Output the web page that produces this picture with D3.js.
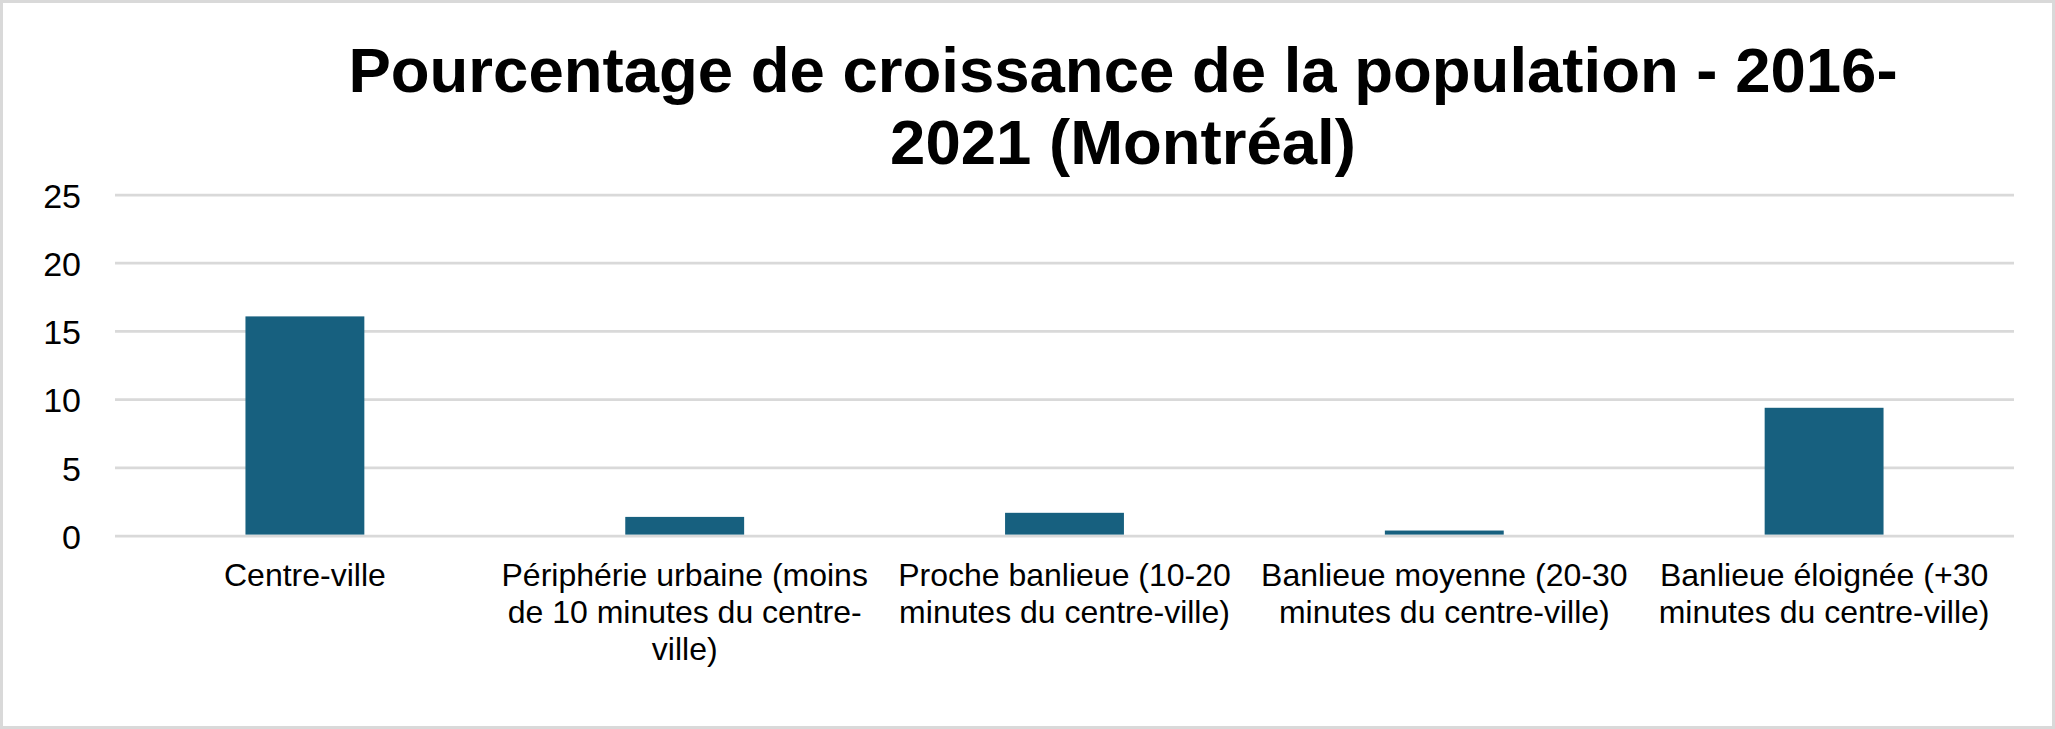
<!DOCTYPE html>
<html>
<head>
<meta charset="utf-8">
<script src="https://cdn.jsdelivr.net/npm/d3@7"></script>
<style>
  body { margin: 0; background: #fff; }
  text { font-family: "Liberation Sans", Arial, sans-serif; fill: #000; }
</style>
</head>
<body>
<div id="chart"></div>
<script>
var categories = [
  "Centre-ville",
  "Périphérie urbaine (moins\nde 10 minutes du centre-\nville)",
  "Proche banlieue (10-20\nminutes du centre-ville)",
  "Banlieue moyenne (20-30\nminutes du centre-ville)",
  "Banlieue éloignée (+30\nminutes du centre-ville)"
];
var values = [16.1, 1.4, 1.7, 0.4, 9.4];
var yTicks = [0, 5, 10, 15, 20, 25];
var titleLines = ["Pourcentage de croissance de la population - 2016-", "2021 (Montréal)"];

var w = 2055,
    h = 729,
    m = [195, 41, 193, 115]; // top right bottom left

var svg = d3.select("#chart").append("svg")
    .attr("width", w)
    .attr("height", h);

svg.append("rect")
    .attr("x", 1.5).attr("y", 1.5)
    .attr("width", w - 3).attr("height", h - 3)
    .attr("fill", "#fff")
    .attr("stroke", "#d9d9d9")
    .attr("stroke-width", 3);

var x = d3.scaleBand()
    .domain(categories)
    .range([m[3], w - m[1]])
    .paddingInner(0.687)
    .paddingOuter(0.3435);

var y = d3.scaleLinear()
    .domain([0, 25])
    .range([h - m[2], m[0]]);

// gridlines
svg.append("g").selectAll("line")
    .data(yTicks)
  .enter().append("line")
    .attr("x1", m[3])
    .attr("x2", w - m[1])
    .attr("y1", function(d) { return y(d); })
    .attr("y2", function(d) { return y(d); })
    .attr("stroke", "#d9d9d9")
    .attr("stroke-width", 2.75);

// y axis labels
var yAxis = d3.axisLeft(y).tickValues(yTicks).tickSize(0).tickPadding(0);
var ya = svg.append("g")
    .attr("transform", "translate(81,0)")
    .call(yAxis);
ya.select(".domain").remove();
ya.selectAll("text")
    .attr("font-size", 34)
    .attr("font-family", "Liberation Sans, Arial, sans-serif")
    .attr("fill", "#000")
    .attr("dy", "0.36em");

// bars
svg.append("g").selectAll("rect")
    .data(values)
  .enter().append("rect")
    .attr("x", function(d, i) { return x(categories[i]); })
    .attr("width", x.bandwidth())
    .attr("y", function(d) { return y(d); })
    .attr("height", function(d) { return y(0) - y(d) - 1.4; })
    .attr("fill", "#17607f");

// category labels
var xl = svg.append("g").selectAll("text")
    .data(categories)
  .enter().append("text")
    .attr("text-anchor", "middle")
    .attr("font-size", 32)
    .attr("transform", function(d) { return "translate(" + (x(d) + x.bandwidth() / 2) + ",586)"; });

xl.selectAll("tspan")
    .data(function(d) { return d.split("\n"); })
  .enter().append("tspan")
    .attr("x", 0)
    .attr("y", function(d, i) { return i * 37; })
    .text(function(d) { return d; });

// title
svg.append("text")
    .attr("text-anchor", "middle")
    .attr("font-size", 63.5)
    .attr("font-weight", "bold")
  .selectAll("tspan")
    .data(titleLines)
  .enter().append("tspan")
    .attr("x", 1123)
    .attr("y", function(d, i) { return 92 + i * 72; })
    .text(function(d) { return d; });
</script>
</body>
</html>
